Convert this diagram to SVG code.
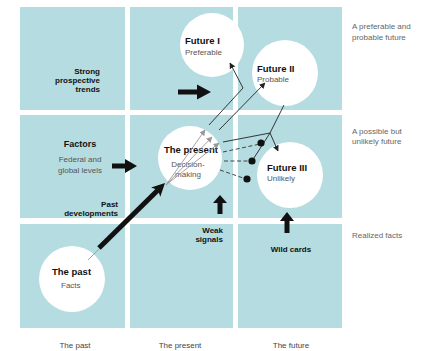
<svg xmlns="http://www.w3.org/2000/svg" width="421" height="351" viewBox="0 0 421 351">
<defs>
<style>
.cell{fill:#b5dce0}
.node{fill:#fff}
.t{font-family:"Liberation Sans",Arial,sans-serif}
.b{font-weight:bold;font-size:8px;fill:#111}
.h{font-weight:bold;font-size:9.5px;fill:#111}
.s{font-size:8px;fill:#555}
.r{font-size:8px;fill:#666}
.f{font-size:8px;fill:#444}
.blk{stroke:#222;stroke-width:0.9;fill:none}
.gry{stroke:#999;stroke-width:0.9;fill:none}
.dsh{stroke:#333;stroke-width:0.9;fill:none;stroke-dasharray:4 2.5}
.dot{fill:#111}
.big{fill:#111}
</style>
<marker id="ab" viewBox="0 0 10 10" refX="9" refY="5" markerWidth="6" markerHeight="6" markerUnits="userSpaceOnUse" orient="auto"><path d="M0,0 L10,5 L0,10 z" fill="#222"/></marker>
<marker id="ag" viewBox="0 0 10 10" refX="9" refY="5" markerWidth="6" markerHeight="6" markerUnits="userSpaceOnUse" orient="auto"><path d="M0,0 L10,5 L0,10 z" fill="#999"/></marker>
</defs>
<rect width="421" height="351" fill="#fff"/>
<g id="grid">
<rect class="cell" x="20" y="7" width="105" height="103"/>
<rect class="cell" x="130" y="7" width="103" height="103"/>
<rect class="cell" x="238" y="7" width="104" height="103"/>
<rect class="cell" x="20" y="115" width="105" height="103"/>
<rect class="cell" x="130" y="115" width="103" height="103"/>
<rect class="cell" x="238" y="115" width="104" height="103"/>
<rect class="cell" x="20" y="224" width="105" height="104"/>
<rect class="cell" x="130" y="224" width="103" height="104"/>
<rect class="cell" x="238" y="224" width="104" height="104"/>
</g>
<g id="labels" class="t">
<text class="b" text-anchor="end" x="100" y="74">Strong</text>
<text class="b" text-anchor="end" x="100" y="83">prospective</text>
<text class="b" text-anchor="end" x="100" y="92">trends</text>
<text class="b" text-anchor="middle" x="80" y="147" style="font-size:9px">Factors</text>
<text class="s" text-anchor="middle" x="80" y="162">Federal and</text>
<text class="s" text-anchor="middle" x="80" y="173">global levels</text>
<text class="b" text-anchor="end" x="118" y="207">Past</text>
<text class="b" text-anchor="end" x="118" y="216">developments</text>
<text class="b" text-anchor="end" x="223" y="233">Weak</text>
<text class="b" text-anchor="end" x="223" y="242">signals</text>
<text class="b" text-anchor="middle" x="291" y="252">Wild cards</text>
<text class="r" x="352" y="29">A preferable and</text>
<text class="r" x="352" y="40">probable future</text>
<text class="r" x="352" y="134">A possible but</text>
<text class="r" x="352" y="144">unlikely future</text>
<text class="r" x="352" y="238">Realized facts</text>
<text class="f" text-anchor="middle" x="75" y="348">The past</text>
<text class="f" text-anchor="middle" x="180" y="348">The present</text>
<text class="f" text-anchor="middle" x="291" y="348">The future</text>
</g>
<g id="future1"><circle class="node" cx="212" cy="45" r="32"/>
<text class="t h" x="185" y="44">Future I</text><text class="t s" x="185" y="55">Preferable</text></g>
<g id="future2"><circle class="node" cx="285" cy="73" r="33"/>
<text class="t h" x="257" y="72">Future II</text><text class="t s" x="257" y="82">Probable</text></g>
<g id="future3"><circle class="node" cx="290" cy="175" r="33"/>
<text class="t h" x="267" y="171">Future III</text><text class="t s" x="267" y="181">Unlikely</text></g>
<g id="past"><circle class="node" cx="72" cy="279" r="33"/>
<text class="t h" x="52" y="275">The past</text><text class="t s" x="61" y="288">Facts</text></g>
<g id="present"><circle class="node" cx="190" cy="158" r="32"/>
<text class="t h" x="164" y="153">The present</text>
<text class="t s" text-anchor="middle" x="188" y="167">Decision-</text>
<text class="t s" text-anchor="middle" x="188" y="177">making</text></g>
<g id="connectors">
<path class="gry" d="M88,260 L100,248"/>
<path class="gry" d="M166,185 L205,130" marker-end="url(#ag)"/>
<path class="gry" d="M166,185 L212,137" marker-end="url(#ag)"/>
<path class="gry" d="M166,185 L219,143" marker-end="url(#ag)"/>
<path class="blk" d="M209,125 L243,88 L230,63" marker-end="url(#ab)"/>
<path class="blk" d="M219,130 L265,83" marker-end="url(#ab)"/>
<path class="blk" d="M223,142 L270,133"/>
<path class="blk" d="M284,105 L270,133 L278,151" marker-end="url(#ab)"/>
<path class="blk" d="M252,161 L270,133"/>
<path class="dsh" d="M223,152 L260,144"/>
<path class="dsh" d="M224,161 L251,161"/>
<path class="dsh" d="M220,170 L246,179"/>
<circle class="dot" cx="261" cy="143" r="3.6"/>
<circle class="dot" cx="252" cy="161" r="3.6"/>
<circle class="dot" cx="247" cy="179" r="3.6"/>
<path d="M99,248 L158,190" stroke="#111" stroke-width="5" fill="none"/>
<path class="big" d="M165,183 L160.3,196.8 L157.9,190 L151.1,187.5 z"/>
<path class="big" d="M178,89.5 H197 V84.5 L211,92 L197,99.5 V94.5 H178 z"/>
<path class="big" d="M112,163.5 H125 V159 L137,166 L125,173 V168.5 H112 z"/>
<path class="big" d="M217.5,214 V203 H213 L220,195 L227,203 H222.5 V214 z"/>
<path class="big" d="M284.5,233 V221 H280 L287,212 L294,221 H289.5 V233 z"/>
</g>
</svg>
